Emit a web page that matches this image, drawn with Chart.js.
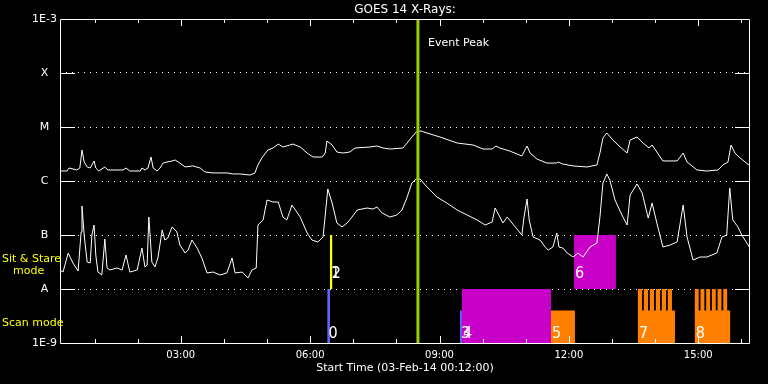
<!DOCTYPE html>
<html>
<head>
<meta charset="utf-8">
<title>GOES 14 X-Rays</title>
<script src="https://cdn.jsdelivr.net/npm/chart.js@4.4.1/dist/chart.umd.min.js"></script>
<style>
  body { margin: 0; background: #000; }
  canvas { display: block; }
</style>
</head>
<body>
<canvas id="goes" width="768" height="384"></canvas>
<script>
// time in hours on 03-Feb-14, flux in W/m2
let timesLong = [0.20,0.36,0.41,0.59,0.66,0.71,0.76,0.83,0.90,0.99,
  1.03,1.10,1.24,1.31,1.66,1.73,1.82,2.06,2.10,2.17,
  2.24,2.31,2.36,2.45,2.52,2.59,2.68,2.80,2.87,2.98,
  3.10,3.28,3.45,3.56,3.75,4.07,4.21,4.37,4.61,4.72,
  4.79,4.88,5.02,5.14,5.26,5.37,5.53,5.60,5.77,5.93,
  6.07,6.28,6.35,6.39,6.51,6.62,6.76,6.92,7.04,7.39,
  7.55,7.69,7.85,8.15,8.25,8.36,8.46,8.57,8.71,9.01,
  9.41,9.78,10.01,10.22,10.31,10.40,10.63,10.91,11.03,11.10,
  11.26,11.49,11.72,11.75,11.86,12.10,12.42,12.65,12.72,12.79,
  12.88,13.02,13.19,13.35,13.42,13.58,13.72,13.86,13.93,14.04,
  14.18,14.51,14.58,14.65,14.74,14.97,15.20,15.46,15.57,15.69,
  15.76,15.85,15.97,16.20];
let fluxLong = [1.53e-6,1.53e-6,1.74e-6,1.60e-6,1.74e-6,3.75e-6,2.25e-6,1.82e-6,1.74e-6,2.35e-6,
  1.74e-6,1.53e-6,1.82e-6,1.60e-6,1.60e-6,1.74e-6,1.53e-6,1.53e-6,1.74e-6,1.60e-6,
  1.74e-6,2.78e-6,1.74e-6,1.53e-6,1.74e-6,2.15e-6,2.25e-6,2.35e-6,2.45e-6,2.15e-6,
  1.82e-6,1.90e-6,1.74e-6,1.47e-6,1.41e-6,1.41e-6,1.35e-6,1.35e-6,1.29e-6,1.41e-6,
  1.98e-6,2.67e-6,3.75e-6,4.08e-6,4.84e-6,4.26e-6,4.64e-6,4.84e-6,4.26e-6,3.30e-6,
  2.78e-6,2.78e-6,3.30e-6,5.50e-6,4.64e-6,3.44e-6,3.30e-6,3.44e-6,4.08e-6,4.26e-6,
  4.45e-6,4.08e-6,3.91e-6,4.08e-6,5.05e-6,6.53e-6,8.08e-6,8.43e-6,7.74e-6,6.53e-6,
  5.05e-6,4.64e-6,3.91e-6,3.91e-6,4.45e-6,4.08e-6,3.59e-6,2.90e-6,4.45e-6,3.30e-6,
  2.55e-6,2.15e-6,2.15e-6,2.25e-6,2.06e-6,1.90e-6,1.82e-6,1.98e-6,3.30e-6,6.26e-6,
  7.74e-6,5.74e-6,4.26e-6,3.30e-6,5.74e-6,6.53e-6,5.05e-6,4.08e-6,4.64e-6,3.44e-6,
  2.35e-6,2.35e-6,2.78e-6,3.30e-6,2.25e-6,1.60e-6,1.53e-6,1.60e-6,1.98e-6,2.25e-6,
  4.64e-6,3.30e-6,2.67e-6,1.90e-6];

let timesShort = [0.20,0.27,0.39,0.50,0.62,0.69,0.71,0.76,0.83,0.90,
  0.94,0.99,1.03,1.08,1.17,1.24,1.29,1.36,1.52,1.64,
  1.73,1.82,1.99,2.10,2.17,2.22,2.26,2.33,2.40,2.47,
  2.57,2.63,2.70,2.80,2.91,2.98,3.10,3.17,3.26,3.38,
  3.49,3.61,3.75,3.91,4.07,4.19,4.26,4.42,4.56,4.65,
  4.75,4.79,4.91,5.00,5.14,5.26,5.37,5.46,5.58,5.77,
  5.93,6.04,6.18,6.30,6.41,6.51,6.62,6.74,6.86,6.97,
  7.09,7.32,7.46,7.55,7.67,7.85,8.01,8.13,8.25,8.36,
  8.46,8.55,8.71,8.94,9.17,9.41,9.64,9.87,10.06,10.22,
  10.29,10.40,10.47,10.57,10.70,10.91,10.96,11.03,11.08,11.17,
  11.33,11.45,11.52,11.63,11.72,11.77,11.86,11.96,12.10,12.21,
  12.33,12.49,12.65,12.72,12.79,12.88,12.95,13.07,13.23,13.35,
  13.42,13.58,13.70,13.84,13.93,14.04,14.18,14.35,14.51,14.65,
  14.74,14.88,15.04,15.20,15.43,15.55,15.66,15.73,15.80,15.92,
  16.01,16.20];
let fluxShort = [2.25e-8,2.06e-8,4.64e-8,3.03e-8,2.15e-8,1.14e-7,3.44e-7,1.00e-7,3.16e-8,3.03e-8,
  1.00e-7,1.53e-7,4.26e-8,2.06e-8,1.82e-8,8.43e-8,2.45e-8,2.25e-8,2.45e-8,2.25e-8,
  4.26e-8,2.06e-8,2.25e-8,5.74e-8,2.55e-8,2.78e-8,2.15e-7,3.16e-8,2.55e-8,3.75e-8,
  1.24e-7,8.08e-8,8.80e-8,1.41e-7,1.14e-7,6.53e-8,4.64e-8,5.27e-8,8.08e-8,5.74e-8,
  3.75e-8,1.98e-8,2.06e-8,1.82e-8,1.98e-8,3.75e-8,1.98e-8,2.06e-8,1.60e-8,2.25e-8,
  2.45e-8,1.53e-7,1.90e-7,4.45e-7,4.08e-7,4.08e-7,2.15e-7,1.90e-7,3.59e-7,2.15e-7,
  1.09e-7,8.08e-8,7.42e-8,9.18e-8,7.11e-7,3.91e-7,1.67e-7,1.41e-7,1.67e-7,2.15e-7,
  2.90e-7,3.16e-7,3.03e-7,3.30e-7,2.55e-7,2.15e-7,2.35e-7,2.90e-7,5.05e-7,9.18e-7,
  1.09e-6,1.09e-6,7.74e-7,5.05e-7,3.91e-7,2.90e-7,2.35e-7,1.90e-7,1.53e-7,1.74e-7,
  3.16e-7,2.15e-7,1.67e-7,2.15e-7,1.60e-7,1.00e-7,2.15e-7,4.64e-7,1.90e-7,9.18e-8,
  8.08e-8,5.99e-8,5.27e-8,5.99e-8,1.09e-7,5.99e-8,5.74e-8,4.64e-8,3.91e-8,4.64e-8,
  3.91e-8,5.99e-8,7.11e-8,2.15e-7,9.18e-7,1.35e-6,1.04e-6,4.45e-7,2.35e-7,1.53e-7,
  5.50e-7,8.80e-7,5.99e-7,2.06e-7,3.91e-7,1.67e-7,5.99e-8,6.53e-8,7.42e-8,3.59e-7,
  9.18e-8,3.44e-8,3.91e-8,3.91e-8,4.64e-8,9.18e-8,1.00e-7,7.42e-7,1.90e-7,1.41e-7,
  1.00e-7,5.74e-8];

let decadeValues = [1e-9, 1e-8, 1e-7, 1e-6, 1e-5, 1e-4, 1e-3];
let decadeLabels = ['1E-9', 'A', 'B', 'C', 'M', 'X', '1E-3'];
let hourLabels = [3, 6, 9, 12, 15];
let hourMarks = [1,2,3,4,5,6,7,8,9,10,11,12,13,14,15,16];

let eventPeak = 8.5;

// observations (scan = 'scan', sit & stare = 'sns')
let obsLabels = ['0', '1', '2', '3', '4', '5', '6', '7', '8'];
let obsMode   = ['scan', 'sns', 'sns', 'scan', 'scan', 'scan', 'sns', 'scan', 'scan'];
let obsStart  = [6.40, 6.46, 6.48, 9.475, 9.52, 11.585, 12.12, 13.60, 14.92];
let obsEnd    = [6.46, 6.51, 6.51, 9.52, 11.585, 12.14, 13.09, 14.46, 15.74];
let obsBase   = [1e-9, 1e-8, 1e-8, 1e-9, 1e-9, 1e-9, 1e-8, 1e-9, 1e-9];
let obsTop    = [1e-8, 1e-7, 1e-7, 4e-9, 1e-8, 4e-9, 1e-7, 4e-9, 4e-9];
let obsTeeth  = [0, 0, 0, 0, 0, 0, 0, 6, 6];
let obsTeethTop = 1e-8;
let obsColor  = ['#6464ff', '#ffff00', '#ffff00', '#6464ff', '#c800c8', '#ff8000', '#c800c8', '#ff8000', '#ff8000'];

let fontFam = '"DejaVu Sans", sans-serif';
let digitFont = '16px "Liberation Sans Narrow", "DejaVu Sans Condensed", "Liberation Sans", sans-serif';

function pairs(xs, ys) {
  return xs.map((t, i) => ({x: t, y: ys[i]}));
}

const goesExtras = {
  id: 'goesExtras',
  beforeDatasetsDraw(chart) {
    const {ctx, scales: {x, y}} = chart;
    ctx.save();
    for (let i = 0; i < obsLabels.length; i++) {
      const x0 = x.getPixelForValue(obsStart[i]);
      const x1 = x.getPixelForValue(obsEnd[i]);
      const yb = y.getPixelForValue(obsBase[i]);
      const yt = y.getPixelForValue(obsTop[i]);
      ctx.fillStyle = obsColor[i];
      ctx.fillRect(x0, yt, x1 - x0, yb - yt);
      if (obsTeeth[i] > 0) {
        const n = obsTeeth[i];
        const ytt = y.getPixelForValue(obsTeethTop);
        const gap = 1.8;
        const w = (x1 - x0 - 3 - gap * (n - 1)) / n;
        for (let k = 0; k < n; k++) {
          ctx.fillRect(x0 + k * (w + gap), ytt, w, yt - ytt + 1);
        }
      }
    }
    ctx.restore();
  },
  afterDatasetsDraw(chart) {
    const {ctx, scales: {x, y}, chartArea: a} = chart;
    ctx.save();
    // observation numbers
    ctx.fillStyle = '#fff';
    ctx.font = digitFont;
    ctx.textBaseline = 'alphabetic';
    ctx.textAlign = 'left';
    for (let i = 0; i < obsLabels.length; i++) {
      const px = x.getPixelForValue(obsStart[i]) + 1;
      const py = y.getPixelForValue(obsBase[i]) - (obsMode[i] === 'sns' ? 11 : 5);
      ctx.fillText(obsLabels[i], px, py);
    }
    // event peak label
    ctx.font = '11px ' + fontFam;
    ctx.textBaseline = 'middle';
    ctx.fillText('Event Peak', x.getPixelForValue(eventPeak) + 10, a.top + 24);
    ctx.restore();
  },
  afterDraw(chart) {
    const {ctx, scales: {x, y}, chartArea: a} = chart;
    ctx.save();
    ctx.strokeStyle = '#fff';
    ctx.lineWidth = 1;
    ctx.beginPath();
    // box
    ctx.rect(a.left + 0.5, a.top + 0.5, a.right - a.left - 1, a.bottom - a.top);
    // hour ticks, inward at top and bottom
    hourMarks.forEach(h => {
      const px = Math.round(x.getPixelForValue(h)) + 0.5;
      const len = h % 3 === 0 ? 7 : 4;
      ctx.moveTo(px, a.bottom); ctx.lineTo(px, a.bottom - len);
      ctx.moveTo(px, a.top); ctx.lineTo(px, a.top + len);
    });
    // decade ticks, inward at left and right
    decadeValues.slice(1, -1).forEach(v => {
      const py = Math.round(y.getPixelForValue(v)) + 0.5;
      ctx.moveTo(a.left, py); ctx.lineTo(a.left + 15, py);
      ctx.moveTo(a.right - 15, py); ctx.lineTo(a.right, py);
    });
    ctx.stroke();
    // mode labels
    ctx.fillStyle = '#ffff00';
    ctx.font = '11px ' + fontFam;
    ctx.textBaseline = 'middle';
    ctx.textAlign = 'left';
    const yA = y.getPixelForValue(1e-8);
    ctx.fillText('Sit & Stare', 2, yA - 30);
    ctx.fillText('mode', 13, yA - 18);
    ctx.fillText('Scan mode', 2, a.bottom - 20);
    ctx.restore();
  }
};

Chart.defaults.font.family = fontFam;
Chart.defaults.color = '#fff';

let chart = new Chart(document.getElementById('goes'), {
  type: 'line',
  data: {
    datasets: [{
      label: 'Event Peak',
      data: [{x: eventPeak, y: 1e-9}, {x: eventPeak, y: 1e-3}],
      borderColor: '#9acd00',
      borderWidth: 3
    }, {
      label: 'GOES 1-8 A',
      data: pairs(timesLong, fluxLong),
      borderColor: '#fff',
      borderWidth: 1
    }, {
      label: 'GOES 0.5-4 A',
      data: pairs(timesShort, fluxShort),
      borderColor: '#fff',
      borderWidth: 1
    }]
  },
  options: {
    responsive: false,
    animation: false,
    parsing: false,
    elements: { point: { radius: 0 }, line: { tension: 0 } },
    layout: { padding: { left: 0, right: 18, top: 0, bottom: 0 } },
    plugins: {
      legend: { display: false },
      tooltip: { enabled: false },
      title: {
        display: true,
        text: 'GOES 14 X-Rays:',
        color: '#fff',
        fullSize: false,
        font: { size: 12, weight: 'normal', lineHeight: 1.2 },
        padding: { top: 3, bottom: 1.6 }
      }
    },
    scales: {
      x: {
        type: 'linear',
        min: 0.2,
        max: 16.2,
        grid: { display: false, drawTicks: false },
        border: { display: false },
        afterBuildTicks: axis => { axis.ticks = hourLabels.map(v => ({value: v})); },
        afterFit: axis => { axis.height = 41; },
        ticks: {
          color: '#fff',
          font: { size: 10 },
          padding: 6,
          maxRotation: 0,
          autoSkip: false,
          callback: v => String(v).padStart(2, '0') + ':00'
        },
        title: {
          display: true,
          text: 'Start Time (03-Feb-14 00:12:00)',
          color: '#fff',
          font: { size: 11 },
          padding: { top: 0, bottom: 9 }
        }
      },
      y: {
        type: 'logarithmic',
        min: 1e-9,
        max: 1e-3,
        afterBuildTicks: axis => { axis.ticks = decadeValues.map(v => ({value: v})); },
        afterFit: axis => { axis.width = 60; },
        grid: {
          drawTicks: false,
          lineWidth: 1,
          color: c => (c.index === 0 || c.index === decadeValues.length - 1) ? 'rgba(0,0,0,0)' : '#fff'
        },
        border: { display: false, dash: [1, 5] },
        ticks: {
          color: '#fff',
          font: { size: 11 },
          padding: 3,
          crossAlign: 'center',
          autoSkip: false,
          callback: (v, i) => decadeLabels[i]
        }
      }
    }
  },
  plugins: [goesExtras]
});
</script>
</body>
</html>
